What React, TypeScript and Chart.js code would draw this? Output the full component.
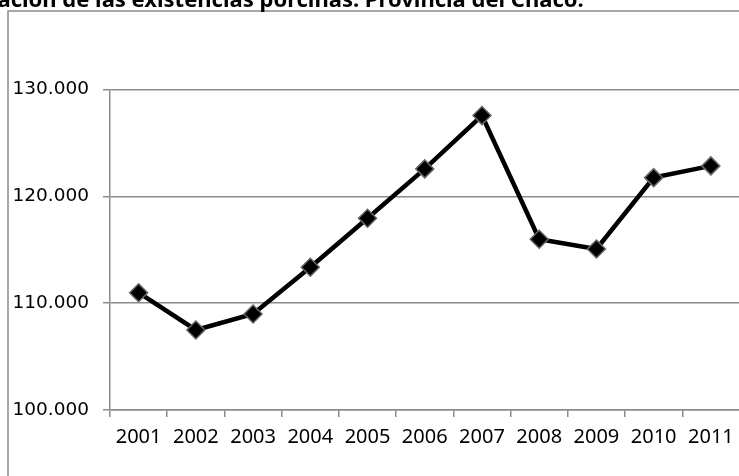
import React, { useEffect, useRef } from "react";
import { Chart, registerables } from "chart.js";

Chart.register(...registerables);

// ---- data ----
const years = ["2001", "2002", "2003", "2004", "2005", "2006", "2007", "2008", "2009", "2010", "2011"];
const stock = [110980, 107490, 108990, 113360, 117950, 122570, 127560, 115980, 115070, 121750, 122850];
const yTicks = [100000, 110000, 120000, 130000];
const titleText = "Variación de las existencias porcinas. Provincia del Chaco.";

// canvas placement relative to the page (the original picture is cropped)
const OFF_X = 46;
const OFF_Y = 14;
const W = OFF_X + 750;
const H = 520;

const TITLE_SIZE = 22;
const TITLE_PAD_TOP = 2;
const TITLE_PAD_BOTTOM = 89.5 + OFF_Y - TITLE_PAD_TOP - TITLE_SIZE * 1.2;

const fmt = (v: number) => String(v).replace(/\B(?=(\d{3})+(?!\d))/g, ".");

const framePlugin = {
  id: "frame",
  beforeDraw(chart: any) {
    const ctx = chart.ctx;
    ctx.save();
    ctx.fillStyle = "#ffffff";
    ctx.fillRect(0, 0, chart.width, chart.height);
    ctx.strokeStyle = "#8c8c8c";
    ctx.lineWidth = 1.5;
    ctx.strokeRect(OFF_X + 8, OFF_Y + 11, chart.width + 50, chart.height + 50);
    ctx.restore();
  },
};

export default function App() {
  const ref = useRef<HTMLCanvasElement | null>(null);

  useEffect(() => {
    document.body.style.overflow = "hidden";
    const canvas = ref.current;
    if (!canvas) return;
    const chart = new Chart(canvas, {
      type: "line",
      data: {
        labels: years,
        datasets: [
          {
            data: stock,
            borderColor: "#000000",
            borderWidth: 4.5,
            pointStyle: "rectRot",
            pointRadius: 9,
            pointBackgroundColor: "#000000",
            pointBorderColor: "#666666",
            pointBorderWidth: 1.5,
            tension: 0,
            fill: false,
          },
        ],
      },
      options: {
        responsive: false,
        animation: false,
        devicePixelRatio: 1,
        layout: { padding: { left: 0, right: 4, top: 0, bottom: 0 } },
        plugins: {
          legend: { display: false },
          tooltip: { enabled: false },
          title: {
            display: true,
            text: titleText,
            align: "start",
            color: "#000000",
            font: { family: "Noto Sans", size: TITLE_SIZE, weight: "bold" },
            padding: { top: TITLE_PAD_TOP, bottom: TITLE_PAD_BOTTOM },
          },
        },
        scales: {
          x: {
            offset: true,
            grid: {
              display: true,
              drawOnChartArea: false,
              drawTicks: true,
              tickLength: 7,
              color: "#8c8c8c",
              lineWidth: 1.5,
              offset: true,
            },
            border: { display: true, color: "#8c8c8c", width: 1.5 },
            ticks: {
              color: "#000000",
              font: { family: "Noto Sans", size: 20 },
              padding: 8,
              maxRotation: 0,
              autoSkip: false,
            },
            afterFit: (s: any) => {
              s.height = 96;
            },
          },
          y: {
            min: 100000,
            max: 130000,
            afterBuildTicks: (s: any) => {
              s.ticks = yTicks.map((v) => ({ value: v }));
            },
            grid: { color: "#8c8c8c", lineWidth: 1.5, tickLength: 7 },
            border: { display: true, color: "#8c8c8c", width: 1.5 },
            ticks: {
              color: "#000000",
              font: { family: "DejaVu Sans", size: 18.5 },
              padding: 14,
              callback: (v: any) => fmt(Number(v)),
            },
            afterFit: (s: any) => {
              s.width = OFF_X + 110;
            },
          },
        },
      },
      plugins: [framePlugin],
    });
    return () => chart.destroy();
  }, []);

  return (
    <div
      style={{
        position: "fixed",
        left: -OFF_X,
        top: -OFF_Y,
        width: W,
        height: H,
        background: "#fff",
      }}
    >
      <canvas ref={ref} width={W} height={H} style={{ width: W, height: H, display: "block" }} />
    </div>
  );
}
